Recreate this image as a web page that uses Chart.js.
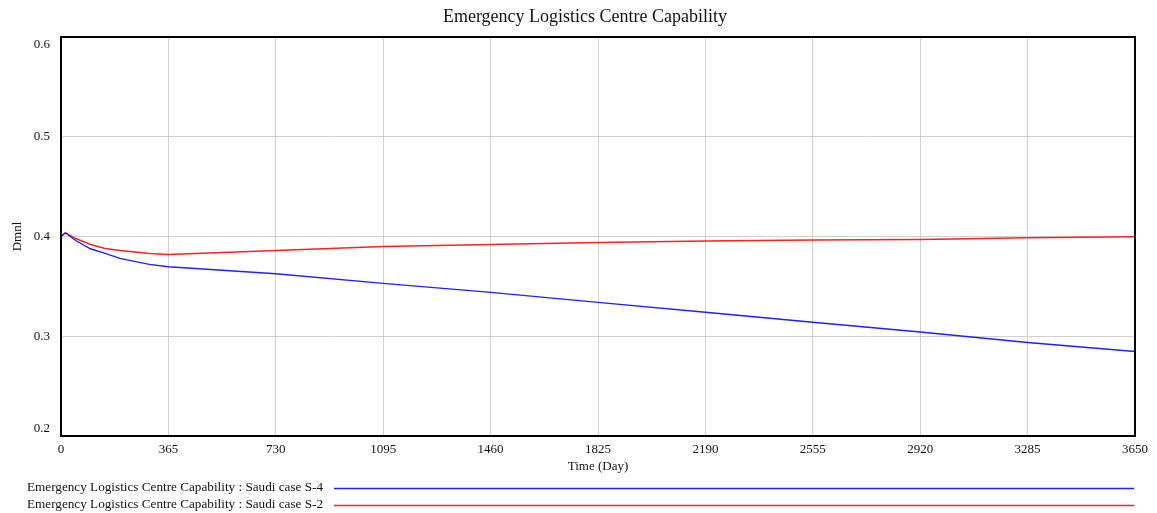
<!DOCTYPE html>
<html>
<head>
<meta charset="utf-8">
<script src="https://cdn.jsdelivr.net/npm/chart.js@4/dist/chart.umd.min.js"></script>
<style>
  html, body { margin: 0; padding: 0; background: #fff; }
  #wrap { width: 1157px; height: 513px; position: relative; }
</style>
</head>
<body>
<div id="wrap"><canvas id="c" width="1157" height="513"></canvas></div>
<script>
// Simulation time (days) and model output for two scenarios
const timeDays = [0, 15, 50, 100, 150, 200, 250, 300, 365, 730, 1095, 1460, 1825, 2190, 2555, 2920, 3285, 3650];
const caseS4 = [0.400, 0.4037, 0.396, 0.3877, 0.383, 0.378, 0.375, 0.372, 0.3697, 0.3627, 0.353, 0.344, 0.334, 0.324, 0.314, 0.3043, 0.2937, 0.2847];
const caseS2 = [0.400, 0.4037, 0.398, 0.392, 0.388, 0.386, 0.3845, 0.383, 0.382, 0.386, 0.390, 0.392, 0.394, 0.3955, 0.3965, 0.397, 0.3987, 0.3997];
const xTicks = [0, 365, 730, 1095, 1460, 1825, 2190, 2555, 2920, 3285, 3650];
const yTicks = [0.2, 0.3, 0.4, 0.5, 0.6];
const seriesLabels = [
  'Emergency Logistics Centre Capability : Saudi case S-4',
  'Emergency Logistics Centre Capability : Saudi case S-2'
];
const seriesColors = ['#1f1fff', '#ff2020'];
const chartTitle = 'Emergency Logistics Centre Capability';

const serif = '"Liberation Serif", "Times New Roman", serif';

function toPoints(xs, ys) { return xs.map((x, i) => ({ x: x, y: ys[i] })); }

// Black frame around the plotting area
const framePlugin = {
  id: 'frame',
  afterDatasetsDraw(chart) {
    const a = chart.chartArea, ctx = chart.ctx;
    ctx.save();
    ctx.strokeStyle = '#000';
    ctx.lineWidth = 2;
    ctx.strokeRect(a.left, a.top, a.right - a.left, a.bottom - a.top);
    ctx.restore();
  }
};

// Heading above the frame
const headingPlugin = {
  id: 'heading',
  afterDraw(chart) {
    const ctx = chart.ctx;
    ctx.save();
    ctx.font = '18px ' + serif;
    ctx.fillStyle = '#111';
    ctx.textAlign = 'center';
    ctx.textBaseline = 'middle';
    ctx.fillText(chartTitle, 585, 17);
    ctx.restore();
  }
};

// Y tick labels, kept inside the frame at the top and bottom ends
const yLabelPlugin = {
  id: 'yLabels',
  afterDraw(chart) {
    const s = chart.scales.y, a = chart.chartArea, ctx = chart.ctx;
    ctx.save();
    ctx.font = '13px ' + serif;
    ctx.fillStyle = '#111';
    ctx.textAlign = 'right';
    ctx.textBaseline = 'middle';
    yTicks.forEach(v => {
      let py = s.getPixelForValue(v);
      py = Math.min(Math.max(py, a.top + 8), a.bottom - 7);
      ctx.fillText(v.toFixed(1), a.left - 11, py);
    });
    ctx.restore();
  }
};

// Legend rows under the axis: label text followed by a long sample line
const rowLegendPlugin = {
  id: 'rowLegend',
  afterDraw(chart) {
    const ctx = chart.ctx;
    ctx.save();
    ctx.font = '13.2px ' + serif;
    ctx.textBaseline = 'middle';
    ctx.textAlign = 'left';
    chart.data.datasets.forEach((ds, i) => {
      const y = 488 + i * 17;
      ctx.fillStyle = '#111';
      ctx.fillText(ds.label, 27, y);
      ctx.strokeStyle = ds.borderColor;
      ctx.lineWidth = 1.3;
      ctx.beginPath();
      ctx.moveTo(334, y + 0.5);
      ctx.lineTo(1134, y + 0.5);
      ctx.stroke();
    });
    ctx.restore();
  }
};

new Chart(document.getElementById('c'), {
  type: 'line',
  data: {
    datasets: [
      { label: seriesLabels[0], data: toPoints(timeDays, caseS4), borderColor: seriesColors[0], borderWidth: 1.4, pointRadius: 0, tension: 0, fill: false },
      { label: seriesLabels[1], data: toPoints(timeDays, caseS2), borderColor: seriesColors[1], borderWidth: 1.4, pointRadius: 0, tension: 0, fill: false }
    ]
  },
  options: {
    responsive: false,
    animation: false,
    layout: { padding: { left: 0, right: 22, top: 37, bottom: 39 } },
    plugins: {
      legend: { display: false },
      tooltip: { enabled: false },
      title: { display: false }
    },
    scales: {
      x: {
        type: 'linear',
        min: 0,
        max: 3650,
        afterBuildTicks(scale) { scale.ticks = xTicks.map(v => ({ value: v })); },
        afterFit(scale) { scale.height = 38; },
        grid: { color: '#d0d0d0', lineWidth: 1, drawTicks: false },
        border: { display: false },
        ticks: { color: '#111', padding: 6, maxRotation: 0, font: { family: serif, size: 13 }, callback: v => String(v) },
        title: { display: true, text: 'Time (Day)', color: '#111', font: { family: serif, size: 13 }, padding: { top: 1, bottom: 0 } }
      },
      y: {
        type: 'linear',
        min: 0.2,
        max: 0.6,
        afterBuildTicks(scale) { scale.ticks = yTicks.map(v => ({ value: v })); },
        afterFit(scale) { scale.width = 61; },
        grid: { color: '#d0d0d0', lineWidth: 1, drawTicks: false },
        border: { display: false },
        ticks: { display: false },
        title: { display: true, text: 'Dmnl', color: '#111', font: { family: serif, size: 13 }, padding: { top: 10, bottom: 0 } }
      }
    }
  },
  plugins: [framePlugin, headingPlugin, yLabelPlugin, rowLegendPlugin]
});
</script>
</body>
</html>
